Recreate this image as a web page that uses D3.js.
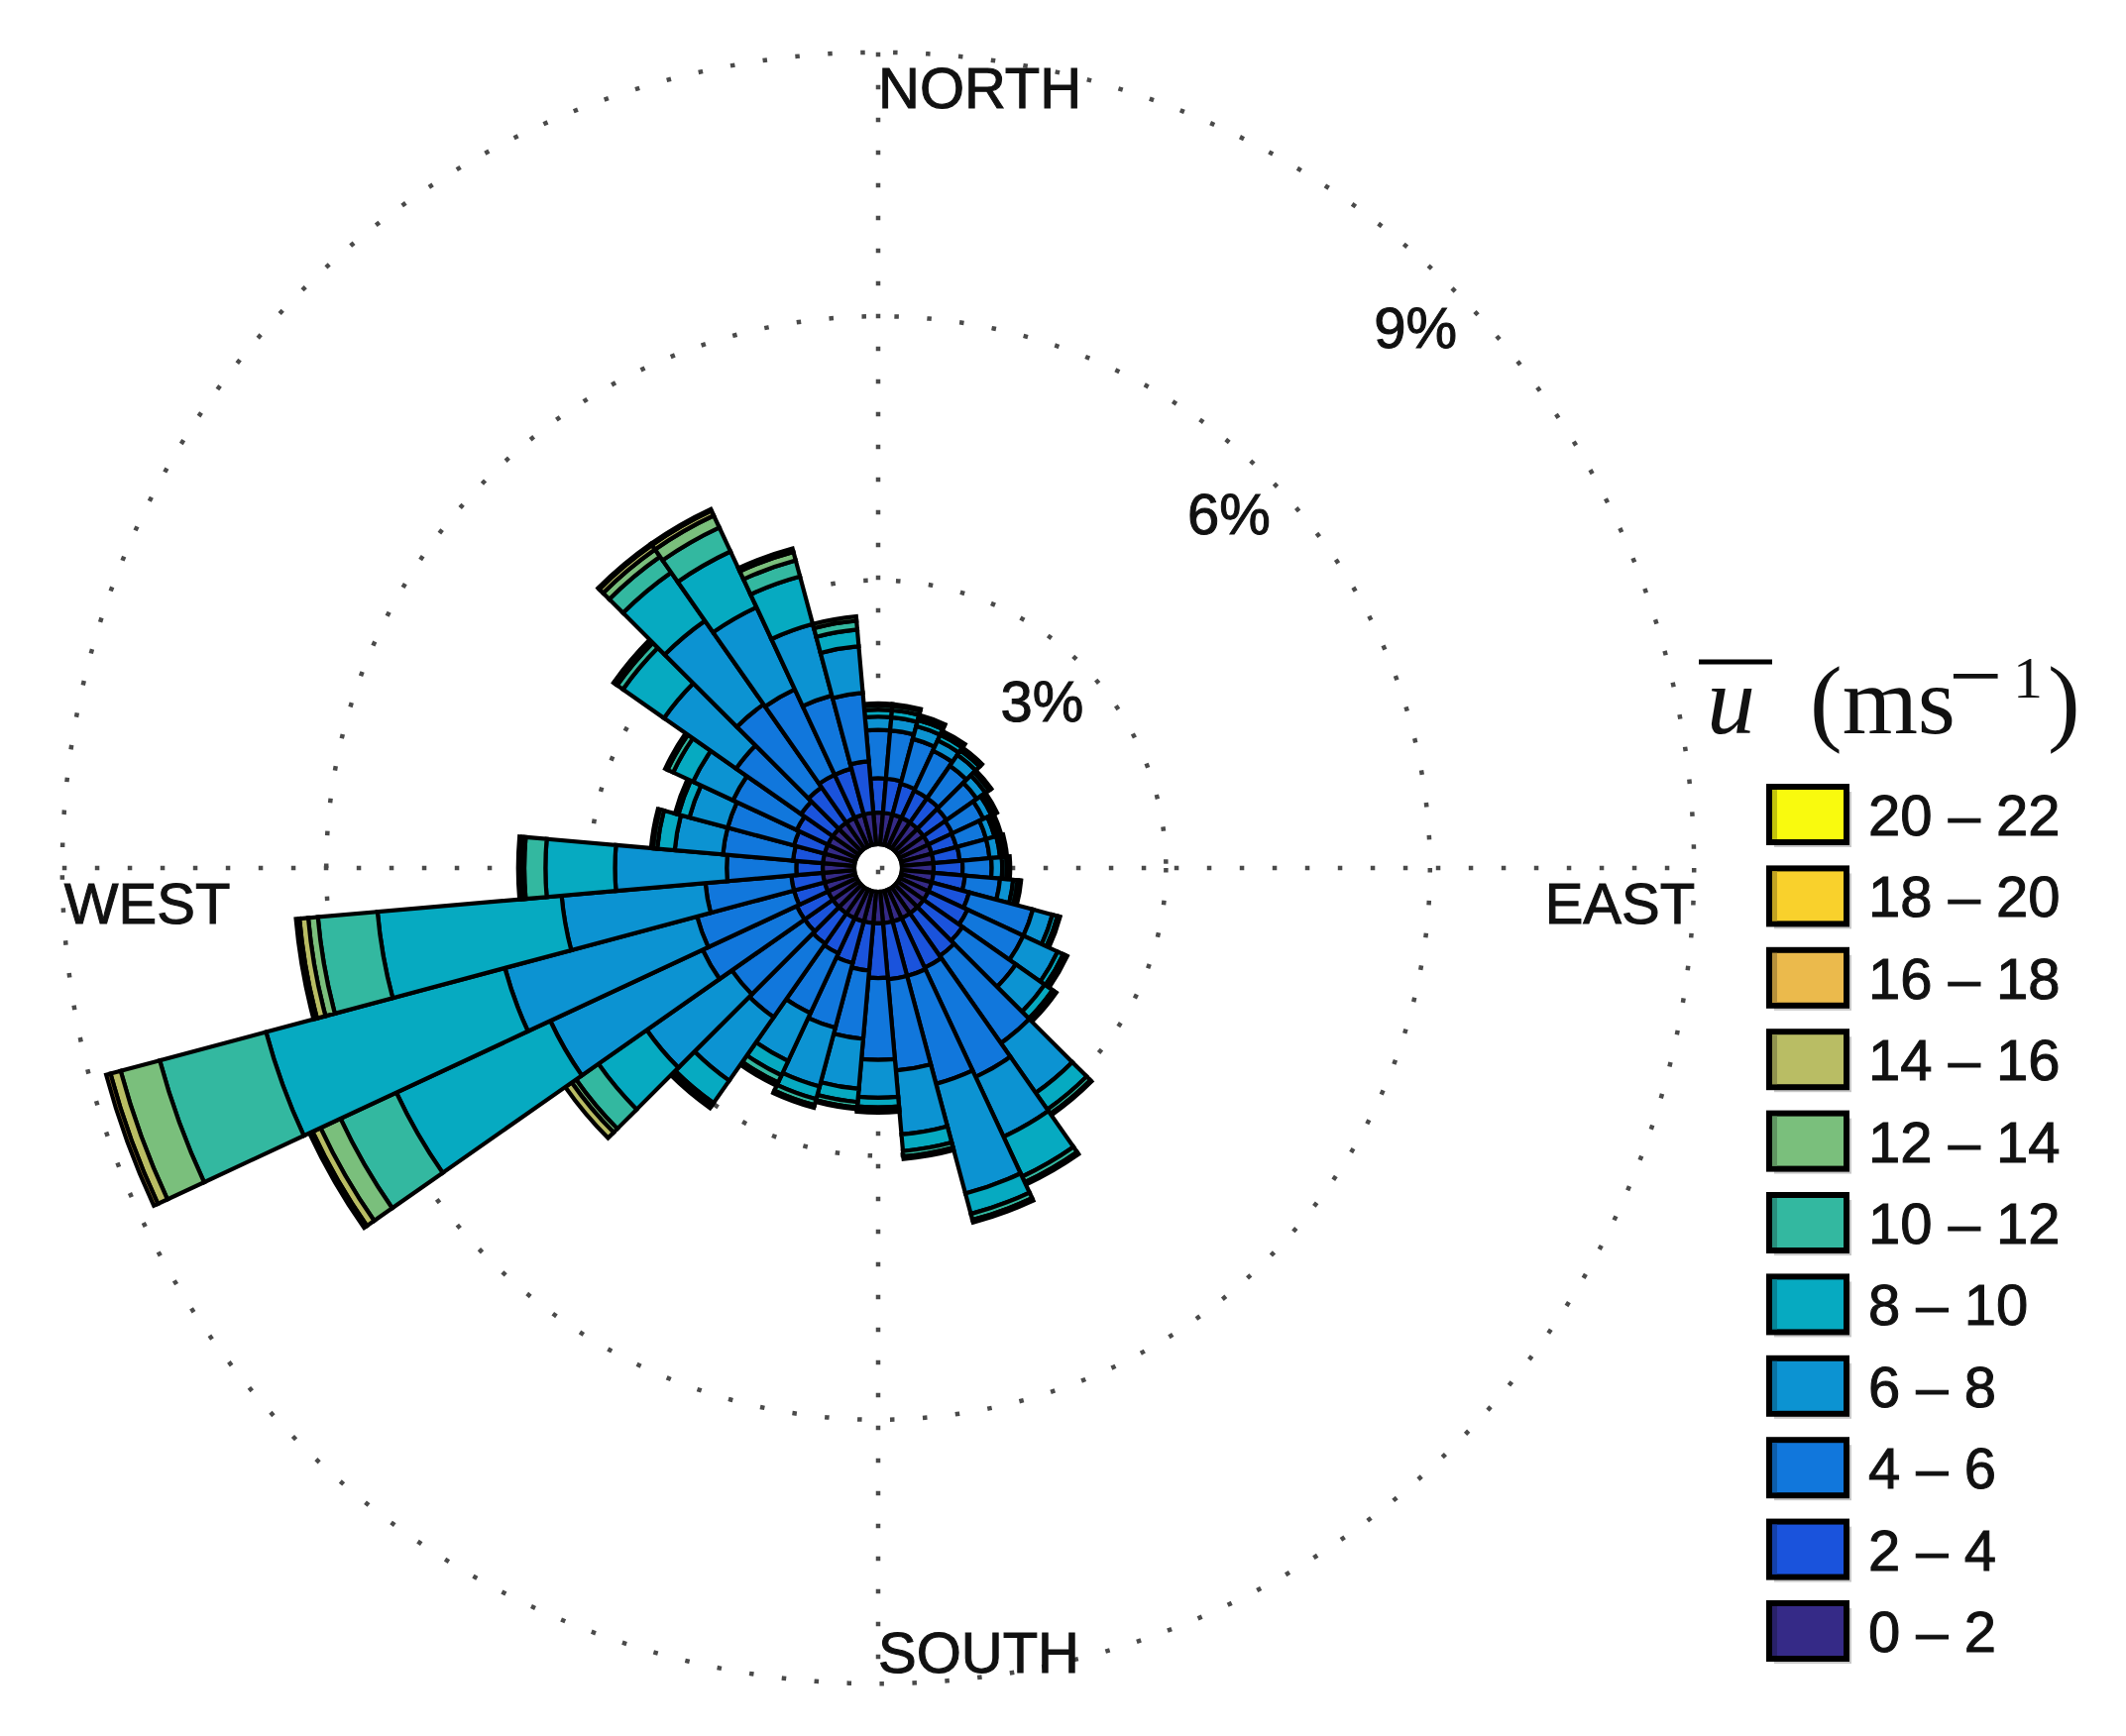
<!DOCTYPE html>
<html>
<head>
<meta charset="utf-8">
<script src="https://cdn.jsdelivr.net/npm/d3@7"></script>
<style>
  html, body { margin: 0; padding: 0; background: #ffffff; }
  svg { display: block; }
</style>
</head>
<body>
<svg id="chart" width="2145" height="1752"></svg>
<script>
// ---------------- DATA ----------------
const directions = [0, 10, 20, 30, 40, 50, 60, 70, 80, 90, 100, 110, 120, 130, 140, 150, 160, 170,
                    180, 190, 200, 210, 220, 230, 240, 250, 260, 270, 280, 290, 300, 310, 320, 330, 340, 350];

const speedBins = ["0 – 2", "2 – 4", "4 – 6", "6 – 8", "8 – 10", "10 – 12",
                   "12 – 14", "14 – 16", "16 – 18", "18 – 20", "20 – 22"];

const binColors = ["#352a87", "#1a53dc", "#1177dc", "#0c93d2", "#06aac1", "#33b8a0",
                   "#7abf7c", "#b9bd64", "#ebba4c", "#f9d12c", "#f9fa0e"];

// frequency (%) per direction, one array per speed bin
const s0_2   = [0.36,0.36,0.36,0.36,0.36,0.36,0.36,0.36,0.36,0.36,0.36,0.36,0.36,0.36,0.36,0.36,0.36,0.36,
                0.36,0.36,0.36,0.36,0.36,0.36,0.36,0.36,0.36,0.36,0.36,0.36,0.36,0.36,0.36,0.36,0.36,0.36];
const s2_4   = [0.39,0.39,0.36,0.34,0.34,0.32,0.30,0.29,0.30,0.33,0.36,0.44,0.49,0.54,0.59,0.62,0.64,0.64,
                0.62,0.54,0.49,0.44,0.42,0.39,0.39,0.36,0.36,0.30,0.34,0.36,0.39,0.44,0.49,0.54,0.54,0.59];
const s4_6   = [0.55,0.55,0.53,0.50,0.45,0.42,0.39,0.35,0.34,0.33,0.40,0.75,0.70,0.74,1.21,1.37,1.27,1.04,
                0.93,0.78,0.76,0.75,1.02,1.01,1.18,1.14,0.98,0.79,0.80,0.78,0.80,0.90,1.15,1.07,0.86,0.78];
const s6_8   = [0.15,0.15,0.15,0.13,0.15,0.12,0.10,0.10,0.12,0.12,0.15,0.23,0.43,0.40,0.69,0.75,1.29,0.73,
                0.43,0.57,0.69,0.60,0.88,1.18,1.91,2.26,1.64,1.27,0.55,0.45,0.50,1.00,1.16,1.03,0.84,0.53];
const s8_10  = [0.08,0.08,0.07,0.07,0.06,0.05,0.04,0.04,0.04,0.05,0.05,0.06,0.07,0.11,0.23,0.50,0.24,0.19,
                0.11,0.15,0.15,0.18,0.31,0.67,1.93,2.81,2.10,0.79,0.20,0.13,0.25,0.57,0.67,0.70,0.56,0.19];
const s10_12 = [0.05,0.05,0.04,0.03,0.03,0.02,0.02,0.03,0.03,0.03,0.03,0.02,0.04,0.04,0.06,0.07,0.07,0.06,
                0.04,0.06,0.07,0.09,0.04,0.31,0.70,1.25,0.68,0.24,0.05,0.03,0.07,0.08,0.22,0.30,0.19,0.10];
const s12_14 = [0.02,0.02,0.02,0.02,0.01,0.01,0.01,0.01,0.01,0.01,0.01,0.01,0.01,0.01,0.02,0.03,0.03,0.03,
                0.02,0.02,0.03,0.04,0.03,0.06,0.25,0.46,0.11,0.04,0.02,0.01,0.03,0.03,0.10,0.15,0.10,0.05];
const s14_16 = [0,0,0,0,0,0,0,0,0,0,0,0,0,0,0,0,0,0,
                0,0,0,0,0,0.09,0.10,0.12,0.10,0.03,0,0,0,0.02,0.06,0.06,0.04,0];
const s16_18 = [0,0,0,0,0,0,0,0,0,0,0,0,0,0,0,0,0,0,
                0,0,0,0,0,0,0.04,0.05,0.04,0,0,0,0,0,0.02,0.02,0,0];
const s18_20 = [0,0,0,0,0,0,0,0,0,0,0,0,0,0,0,0,0,0,
                0,0,0,0,0,0,0,0,0,0,0,0,0,0,0,0,0,0];
const s20_22 = [0,0,0,0,0,0,0,0,0,0,0,0,0,0,0,0,0,0,
                0,0,0,0,0,0,0,0,0,0,0,0,0,0,0,0,0,0];

const ringValues = [3, 6, 9];
const ringLabels = ["3%", "6%", "9%"];
const compassLabels = ["NORTH", "EAST", "SOUTH", "WEST"];

// ---------------- DRAWING ----------------
const series = [s0_2, s2_4, s4_6, s6_8, s8_10, s10_12, s12_14, s14_16, s16_18, s18_20, s20_22];
const cx = 886, cy = 876;
const rScale = d3.scaleLinear().domain([0, 9]).range([24, 823.2]);
const R = rScale(9);
const binWidth = 10;
const toRad = d => d * Math.PI / 180;

const svg = d3.select("#chart");
svg.append("rect").attr("width", 2145).attr("height", 1752).attr("fill", "#fff");

const g = svg.append("g").attr("transform", `translate(${cx},${cy})`);

// dotted grid
const gridStyle = sel => sel.attr("fill", "none").attr("stroke", "#4a4a4a")
  .attr("stroke-width", 4.5).attr("stroke-dasharray", "4.5 28.5");
g.selectAll("circle.ring").data(ringValues).join("circle")
  .attr("class", "ring").attr("r", d => rScale(d)).call(gridStyle);
g.append("line").attr("x1", -R).attr("x2", R).attr("y1", 0).attr("y2", 0).call(gridStyle);
g.append("line").attr("x1", 0).attr("x2", 0).attr("y1", -R).attr("y2", R).call(gridStyle);

// stacked segments
const segs = [];
directions.forEach((dir, i) => {
  let acc = 0;
  series.forEach((s, j) => {
    const v = s[i];
    if (v > 0) segs.push({ dir, bin: j, y0: acc, y1: acc + v });
    acc += v;
  });
});
const arc = d3.arc()
  .innerRadius(d => rScale(d.y0))
  .outerRadius(d => rScale(d.y1))
  .startAngle(d => toRad(d.dir - binWidth / 2))
  .endAngle(d => toRad(d.dir + binWidth / 2));
g.selectAll("path.bar").data(segs).join("path")
  .attr("class", "bar")
  .attr("d", arc)
  .attr("fill", d => binColors[d.bin])
  .attr("stroke", "#000")
  .attr("stroke-width", 4.2)
  .attr("stroke-linejoin", "miter");

// compass labels
const labelFont = "'Liberation Sans', Arial, Helvetica, sans-serif";
const textStyle = sel => sel.attr("font-family", labelFont).attr("font-size", 58)
  .attr("fill", "#111").attr("stroke", "#111").attr("stroke-width", 1);
const compassPos = {
  NORTH: { x: 0, y: -R + 56, anchor: "start" },
  EAST:  { x: R + 1, y: 56, anchor: "end" },
  SOUTH: { x: 0, y: R - 11, anchor: "start" },
  WEST:  { x: -R + 2, y: 56, anchor: "start" }
};
g.selectAll("text.compass").data(compassLabels).join("text")
  .attr("class", "compass")
  .attr("x", d => compassPos[d].x)
  .attr("y", d => compassPos[d].y)
  .attr("text-anchor", d => compassPos[d].anchor)
  .call(textStyle)
  .text(d => d);

// ring labels (along 45°)
g.selectAll("text.ringlab").data(ringValues).join("text")
  .attr("class", "ringlab")
  .attr("x", d => rScale(d) * Math.SQRT1_2 + 2)
  .attr("y", d => -rScale(d) * Math.SQRT1_2 + 57)
  .attr("text-anchor", "end")
  .call(textStyle)
  .text((d, i) => ringLabels[i]);

// legend
const leg = svg.append("g");
const rowY0 = 822, rowStep = 82.4, boxX = 1785, boxW = 78, boxH = 56;
const legendOrder = d3.range(speedBins.length).reverse();
legendOrder.forEach((bin, i) => {
  const yc = rowY0 + i * rowStep;
  leg.append("rect").attr("x", boxX + 5).attr("y", yc - boxH / 2 + 5)
    .attr("width", boxW).attr("height", boxH).attr("fill", "#c8c8c8");
  leg.append("rect").attr("x", boxX).attr("y", yc - boxH / 2)
    .attr("width", boxW).attr("height", boxH)
    .attr("fill", binColors[bin]).attr("stroke", "#000").attr("stroke-width", 6);
  leg.append("rect").attr("x", boxX + 3).attr("y", yc - boxH / 2 + 3)
    .attr("width", 5).attr("height", boxH - 6)
    .attr("fill", d3.color(binColors[bin]).darker(0.7));
  leg.append("text").attr("x", 1885).attr("y", yc + 21)
    .call(textStyle)
    .text(speedBins[bin]);
});

// legend title:  u-bar (ms^-1)
const serif = "'Liberation Serif', 'Times New Roman', serif";
const tg = svg.append("g");
tg.append("line").attr("x1", 1714).attr("x2", 1788).attr("y1", 668).attr("y2", 668)
  .attr("stroke", "#000").attr("stroke-width", 5);
tg.append("text").attr("x", 1722).attr("y", 740).attr("font-family", serif)
  .attr("font-style", "italic").attr("font-size", 98).attr("fill", "#111").text("u");
tg.append("text").attr("x", 1826).attr("y", 740).attr("font-family", serif)
  .attr("font-size", 98).attr("fill", "#111").text("(ms");
tg.append("text").attr("x", 1966).attr("y", 714).attr("font-family", serif)
  .attr("font-size", 96).attr("fill", "#111").text("−");
tg.append("text").attr("x", 2031).attr("y", 704).attr("font-family", serif)
  .attr("font-size", 60).attr("fill", "#111").text("1");
tg.append("text").attr("x", 2066).attr("y", 740).attr("font-family", serif)
  .attr("font-size", 98).attr("fill", "#111").text(")");
</script>
</body>
</html>
